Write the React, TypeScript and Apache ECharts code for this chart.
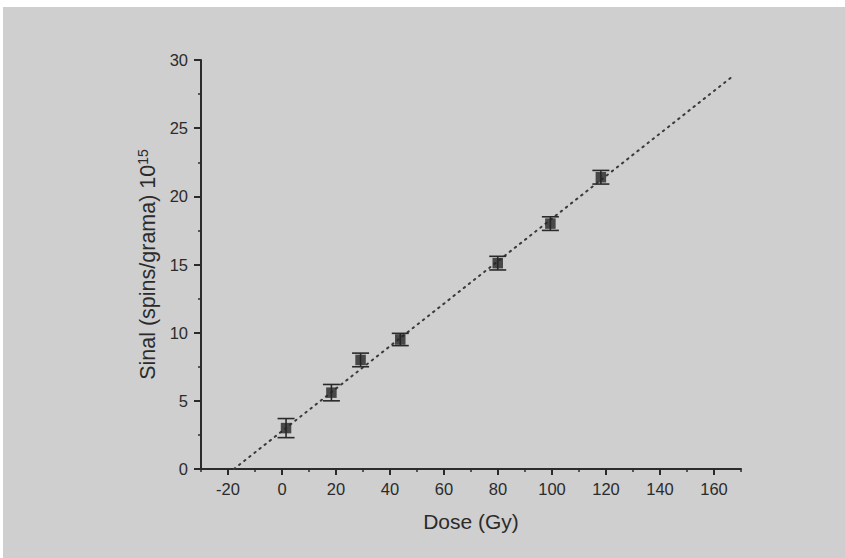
import React, { useEffect, useRef } from "react";
import * as echarts from "echarts";

const doseX = [1.5, 18.3, 29.1, 43.8, 79.9, 99.4, 118.1];
const signalY = [3.0, 5.6, 8.0, 9.5, 15.1, 18.0, 21.4];
const signalErr = [0.7, 0.6, 0.5, 0.45, 0.5, 0.5, 0.5];
const fitX = [-17.8, 167.5];
const fitY = [0, 28.9];
const xMajorTicks = [-20, 0, 20, 40, 60, 80, 100, 120, 140, 160];

const FONT = "Liberation Sans, Arial, sans-serif";
const INK = "#2b2b2b";

export default function App() {
  const ref = useRef<HTMLDivElement>(null);
  useEffect(() => {
    if (!ref.current) return;
    const chart = echarts.init(ref.current, null, { renderer: "svg" });
    const points = doseX.map((x, i) => [x, signalY[i]]);
    const bars = doseX.map((x, i) => [x, signalY[i] - signalErr[i], signalY[i] + signalErr[i]]);
    const fit = fitX.map((x, i) => [x, fitY[i]]);
    chart.setOption({
      animation: false,
      backgroundColor: "transparent",
      grid: { left: 201, right: 104, top: 60, bottom: 89 },
      xAxis: [
        {
          type: "value",
          min: -30,
          max: 170,
          name: "Dose (Gy)",
          nameLocation: "middle",
          nameGap: 42,
          nameTextStyle: { fontFamily: FONT, fontSize: 21, color: INK },
          axisLine: { show: true, onZero: false, lineStyle: { color: INK, width: 2 } },
          axisTick: { show: true, inside: false, customValues: xMajorTicks, length: 6, lineStyle: { color: INK, width: 2 } },
          axisLabel: { customValues: xMajorTicks, margin: 11, fontFamily: FONT, fontSize: 16.5, color: INK },
          splitLine: { show: false },
        },
        {
          type: "value",
          min: -30,
          max: 170,
          interval: 10,
          position: "bottom",
          axisLine: { show: false, onZero: false },
          axisTick: { show: true, inside: false, length: 3, lineStyle: { color: INK, width: 1.5 } },
          axisLabel: { show: false },
          splitLine: { show: false },
        },
      ],
      yAxis: [
        {
          type: "value",
          min: 0,
          max: 30,
          interval: 5,
          name: "{a|Sinal (spins/grama) 10}{s|15}",
          nameLocation: "middle",
          nameGap: 40,
          nameTextStyle: {
            fontFamily: FONT,
            color: INK,
            rich: {
              a: { fontFamily: FONT, fontSize: 21.5, color: INK },
              s: { fontFamily: FONT, fontSize: 14, color: INK, verticalAlign: "top", padding: [0, 0, 10, 0] },
            },
          },
          axisLine: { show: true, onZero: false, lineStyle: { color: INK, width: 2 } },
          axisTick: { show: true, inside: false, length: 7, lineStyle: { color: INK, width: 2 } },
          axisLabel: { margin: 13, fontFamily: FONT, fontSize: 16.5, color: INK },
          splitLine: { show: false },
        },
        {
          type: "value",
          min: 0,
          max: 30,
          interval: 2.5,
          position: "left",
          axisLine: { show: false, onZero: false },
          axisTick: { show: true, inside: false, length: 3, lineStyle: { color: INK, width: 1.5 } },
          axisLabel: { show: false },
          splitLine: { show: false },
        },
      ],
      series: [
        {
          type: "line",
          data: fit,
          symbol: "none",
          lineStyle: { color: "#3a3a3a", width: 2, type: [1.5, 5], cap: "round" },
          z: 1,
        },
        {
          type: "custom",
          data: bars,
          renderItem: (params: any, api: any) => {
            const x = api.value(0);
            const top = api.coord([x, api.value(2)]);
            const bot = api.coord([x, api.value(1)]);
            const w = 8.5;
            const st = { stroke: "#2a2a2a", lineWidth: 1.6 };
            return {
              type: "group",
              children: [
                { type: "line", shape: { x1: top[0], y1: top[1], x2: bot[0], y2: bot[1] }, style: st },
                { type: "line", shape: { x1: top[0] - w, y1: top[1], x2: top[0] + w, y2: top[1] }, style: st },
                { type: "line", shape: { x1: bot[0] - w, y1: bot[1], x2: bot[0] + w, y2: bot[1] }, style: st },
              ],
            };
          },
          z: 2,
        },
        {
          type: "scatter",
          data: points,
          symbol: "rect",
          symbolSize: 10.5,
          itemStyle: { color: "#252525" },
          z: 3,
        },
      ],
    });
    return () => chart.dispose();
  }, []);
  return (
    <div style={{ position: "fixed", left: 0, top: 0, width: 845, height: 558, background: "#ffffff" }}>
      <div style={{ position: "absolute", left: 3, top: 7, right: 0, bottom: 0, background: "#cfcfcf" }} />
      <div ref={ref} style={{ position: "absolute", left: 0, top: 0, width: 845, height: 558 }} />
    </div>
  );
}
